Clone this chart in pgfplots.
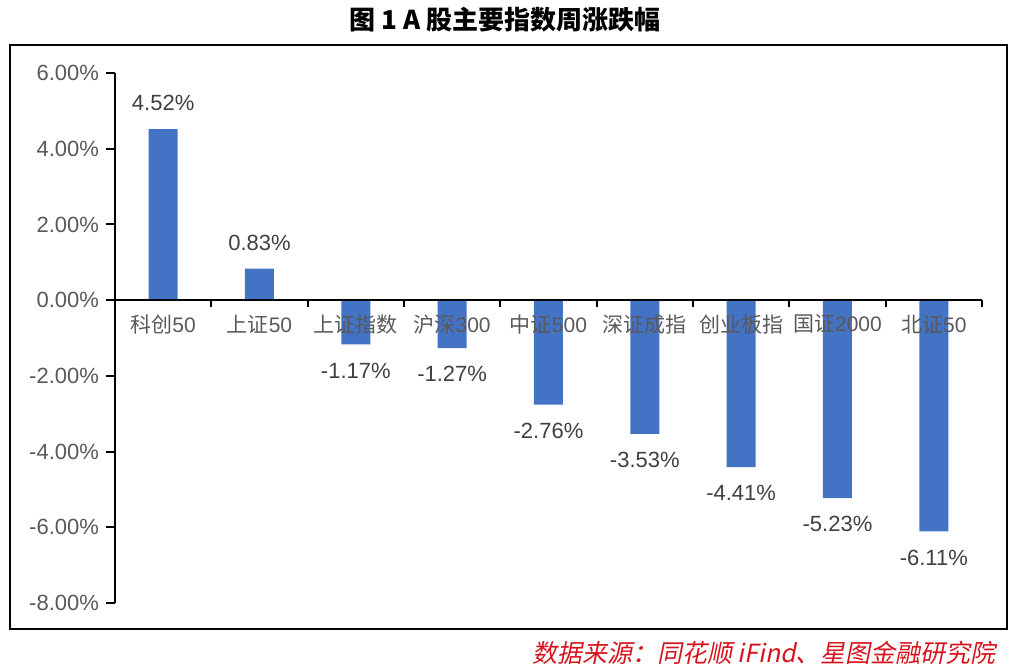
\documentclass[border=0pt]{standalone}
\usepackage{fontspec}
\usepackage{pgfplots}
\pgfplotsset{compat=1.18}
\setmainfont{Liberation Sans}
\newfontfamily\cjk{Noto Sans CJK SC}
\newfontfamily\cjkit[FakeSlant=0.2]{Noto Sans CJK SC}
\definecolor{barblue}{HTML}{4472C4}
\definecolor{tickgrey}{HTML}{595959}
\definecolor{labgrey}{HTML}{404040}
\definecolor{srcred}{HTML}{D7141E}

\begin{document}
\begin{tikzpicture}
\useasboundingbox (-57.5pt,-31.5pt) rectangle (450.5pt,301.5pt);
\draw[line width=1pt] (-52.5pt,-13pt) rectangle (446pt,279pt);
\node[font=\cjk\bfseries\fontsize{13}{15}\selectfont] at (195pt,291.5pt)
  {图 1 A 股主要指数周涨跌幅};
\node[anchor=east, text=srcred, font=\cjkit\fontsize{12.5}{14}\selectfont]
  at (444pt,-25pt) {数据来源：同花顺 iFind、星图金融研究院};

\begin{axis}[
  at={(0pt,0pt)}, anchor=south west,
  scale only axis, width=433.5pt, height=265pt,
  clip=false, axis on top,
  xmin=-0.5, xmax=8.5, ymin=-8, ymax=6,
  axis y line=left, axis x line=middle,
  axis line style={-, line width=1pt, black},
  ytick={-8,-6,...,6},
  ytick align=outside, ytick pos=left,
  major tick length=4.5pt,
  y tick style={line width=1pt, black},
  /pgf/number format/assume math mode=true,
  yticklabel={\pgfmathprintnumber[fixed,fixed zerofill,precision=2]{\tick}\%},
  yticklabel style={font=\fontsize{11}{13}\selectfont, text=tickgrey},
  xtick={0,...,8},
  x tick style={draw=none},
  xticklabels={{\cjk 科创}50,{\cjk 上证}50,{\cjk 上证指数},{\cjk 沪深}300,
    {\cjk 中证}500,{\cjk 深证成指},{\cjk 创业板指},{\cjk 国证}2000,{\cjk 北证}50},
  xticklabel style={font=\fontsize{10.5}{12}\selectfont, text=tickgrey,
    anchor=center, yshift=-7.5pt},
  ybar, bar width=14.5pt,
  visualization depends on={y \as \rawy},
  nodes near coords={\pgfmathprintnumber[fixed,fixed zerofill,precision=2]{\pgfplotspointmeta}\%},
  every node near coord/.append style={font=\fontsize{11}{13}\selectfont,
    text=labgrey, anchor=center, yshift={26*(\rawy>0)-13}},
]
\addplot[fill=barblue, draw=none] coordinates {
  (0,4.52) (1,0.83) (2,-1.17) (3,-1.27) (4,-2.76)
  (5,-3.53) (6,-4.41) (7,-5.23) (8,-6.11)
};
\pgfplotsinvokeforeach{0.5,1.5,...,8.5}{
  \draw[line width=1pt] (axis cs:#1,0) -- ++(0pt,-3.5pt);
}
\end{axis}
\end{tikzpicture}
\end{document}
